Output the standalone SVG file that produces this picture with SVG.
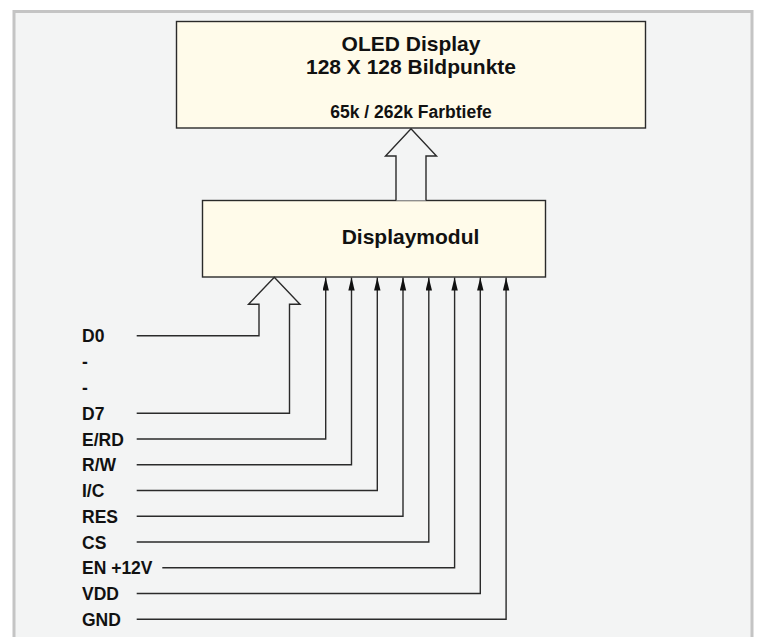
<svg xmlns="http://www.w3.org/2000/svg" width="758" height="637" viewBox="0 0 758 637">
<defs>
<style>
.box{fill:#fffbea;stroke:#2a2a2a;stroke-width:1.4}
.t{font-family:"Liberation Sans",Arial,sans-serif;font-weight:bold;fill:#111}
.c{text-anchor:middle}
.w{fill:none;stroke:#2a2a2a;stroke-width:1.4}
.h{fill:#f3f4f4;stroke:#2a2a2a;stroke-width:1.4;stroke-linejoin:miter}
.lab{font-size:17.5px}
</style>
<marker id="ah" markerUnits="userSpaceOnUse" markerWidth="14" markerHeight="8" refX="13" refY="3.2" orient="auto" viewBox="0 0 14 8">
<path d="M0,0 L13,3.2 L0,6.4 Z" fill="#111"/>
</marker>
</defs>
<rect x="0" y="0" width="758" height="637" fill="#ffffff"/>
<rect x="14" y="11.5" width="738" height="640" fill="#f3f4f4" stroke="#c4c4c4" stroke-width="3"/>
<g id="oled">
<rect class="box" x="176.5" y="21.5" width="469" height="106.5"/>
<text class="t c" x="411" y="51" font-size="21">OLED Display</text>
<text class="t c" x="411" y="73.5" font-size="21">128 X 128 Bildpunkte</text>
<text class="t c" x="411" y="117.5" font-size="17.5">65k / 262k Farbtiefe</text>
</g>
<g id="displaymodul">
<rect class="box" x="202.5" y="200.5" width="343" height="76.5"/>
<text class="t c" x="410.5" y="244" font-size="21">Displaymodul</text>
</g>
<g id="connectors">
<path class="h" d="M396,200.5 V156 H385.5 L411,128.7 L436.5,156 H426 V200.5"/>
<path class="h" d="M136.7,335.7 H259 V304.3 H248.5 L274.3,277.3 L300,304.3 H289.5 V413.3 H136.7"/>
<path class="w" d="M136.7,439 H325.7 V277.5" marker-end="url(#ah)"/>
<path class="w" d="M136.7,464.7 H351.5 V277.5" marker-end="url(#ah)"/>
<path class="w" d="M136.7,490.5 H377.3 V277.5" marker-end="url(#ah)"/>
<path class="w" d="M136.7,516.2 H403 V277.5" marker-end="url(#ah)"/>
<path class="w" d="M136.7,542 H428.8 V277.5" marker-end="url(#ah)"/>
<path class="w" d="M162.3,567.8 H454.6 V277.5" marker-end="url(#ah)"/>
<path class="w" d="M136.7,593.5 H480.3 V277.5" marker-end="url(#ah)"/>
<path class="w" d="M136.7,619.3 H506.1 V277.5" marker-end="url(#ah)"/>
</g>
<g id="labels">
<text class="t lab" x="82" y="342">D0</text>
<text class="t lab" x="82" y="368">-</text>
<text class="t lab" x="82" y="394">-</text>
<text class="t lab" x="82" y="420">D7</text>
<text class="t lab" x="82" y="445.5">E/RD</text>
<text class="t lab" x="82" y="471.2">R/W</text>
<text class="t lab" x="82" y="497">I/C</text>
<text class="t lab" x="82" y="522.7">RES</text>
<text class="t lab" x="82" y="548.5">CS</text>
<text class="t lab" x="82" y="574.3">EN +12V</text>
<text class="t lab" x="82" y="600">VDD</text>
<text class="t lab" x="82" y="625.8">GND</text>
</g>
</svg>
